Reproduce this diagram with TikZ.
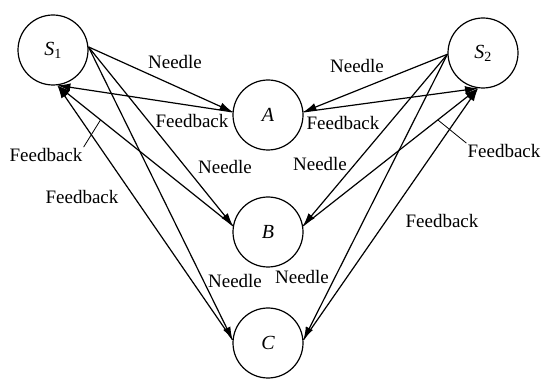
\documentclass[tikz,border=0pt]{standalone}
\usepackage{fontspec}
\setmainfont{Liberation Serif}
\usetikzlibrary{arrows.meta}
\begin{document}
\begin{tikzpicture}[x=1pt,y=-1pt,
  state/.style={circle,draw,line width=1.2pt,minimum size=70pt,inner sep=0pt,font=\fontsize{20}{24}\selectfont\itshape},
  lbl/.style={inner sep=1pt,font=\fontsize{19}{22}\selectfont},
  link/.style={line width=1.2pt,-{Latex[length=13pt,width=8pt]}},
  leader/.style={line width=0.8pt}]
\useasboundingbox (0,0) rectangle (544,382);
% states
\node[state] (S1) at (53,50) {S\textsubscript{\upshape 1}};
\node[state] (S2) at (483,53) {S\textsubscript{\upshape 2}};
\node[state] (A) at (268,115) {A};
\node[state] (B) at (268,232) {B};
\node[state] (C) at (268,343) {C};
% left side
\draw[link] (S1.5) -- (A.175);
\draw[link] (S1.5) -- (B.170);
\draw[link] (S1.5) -- (C.175);
\draw[link] (A.175) -- (S1.-83);
\draw[link] (B.170) -- coordinate[pos=0.754] (lb) (S1.-83);
\draw[link] (C.175) -- (S1.-83);
% right side
\draw[link] (S2.182) -- (A.5);
\draw[link] (S2.182) -- (B.10);
\draw[link] (S2.182) -- (C.5);
\draw[link] (A.5) -- (S2.-98);
\draw[link] (B.10) -- coordinate[pos=0.77] (rb) (S2.-98);
\draw[link] (C.5) -- (S2.-98);
% labels
\node[lbl] (n1) at (175,62) {Needle};
\node[lbl] (f1) at (192,121) {Feedback};
\node[lbl] (fbl) at (46,155) {Feedback};
\node[lbl] (f2) at (82,197) {Feedback};
\node[lbl] (n2) at (225,167) {Needle};
\node[lbl] (n3) at (235,281) {Needle};
\node[lbl] (n4) at (357,66) {Needle};
\node[lbl] (f3) at (343,123) {Feedback};
\node[lbl] (fbr) at (504,151) {Feedback};
\node[lbl] (n5) at (320,164) {Needle};
\node[lbl] (f4) at (442,221) {Feedback};
\node[lbl] (n6) at (302,277) {Needle};
% leaders
\draw[leader] (lb) -- (fbl.north east);
\draw[leader] (rb) -- (fbr.north west);
\end{tikzpicture}
\end{document}
